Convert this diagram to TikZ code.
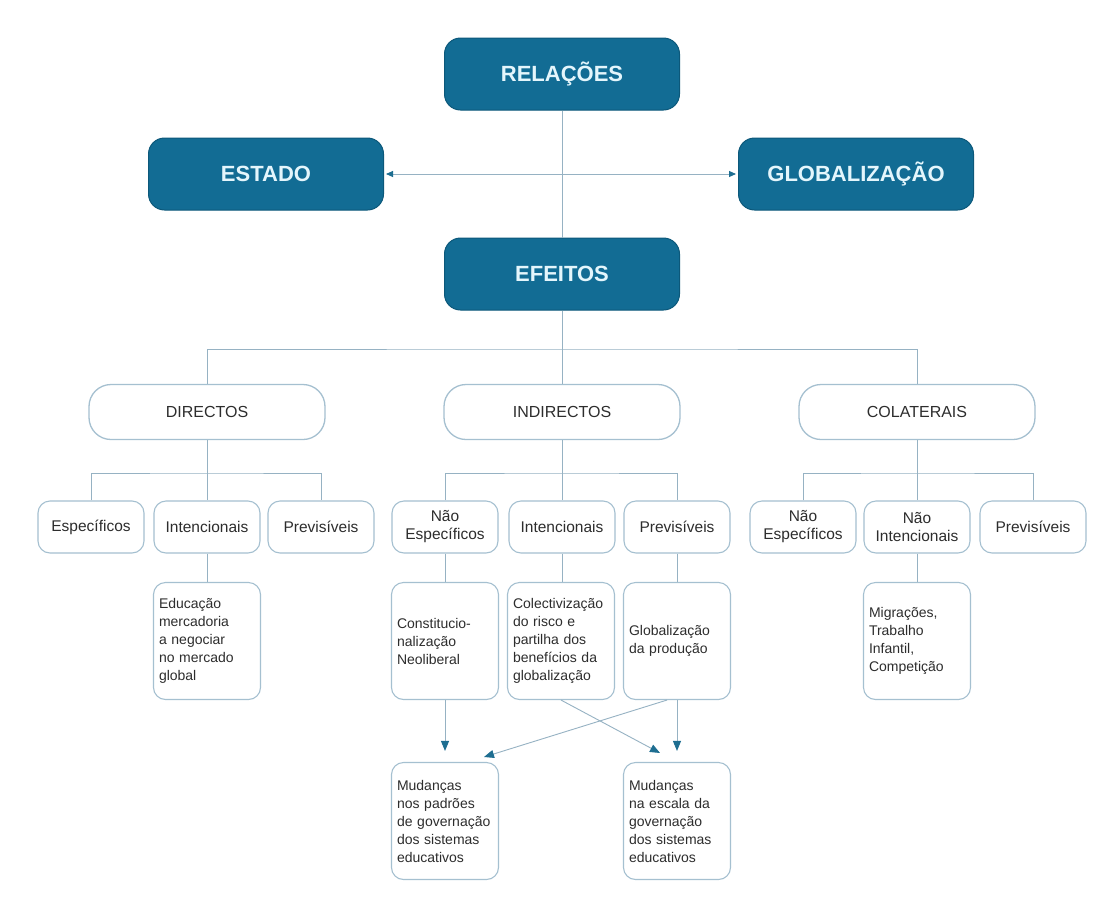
\documentclass[tikz,border=0pt]{standalone}
\usepackage{fontspec}
\setmainfont{Liberation Sans}
\usetikzlibrary{arrows.meta}
\definecolor{dk}{RGB}{18,108,148}
\definecolor{dkb}{RGB}{12,88,122}
\definecolor{lt}{RGB}{228,246,252}
\definecolor{ln}{RGB}{150,178,195}
\definecolor{bd}{RGB}{165,192,208}
\definecolor{ah}{RGB}{30,110,145}
\definecolor{tx}{RGB}{45,45,45}
\newcommand\leaffont{\fontsize{14}{18}\selectfont\hyphenpenalty=10000 \hbadness=10000 \relax}
\begin{document}
\begin{tikzpicture}[x=1pt,y=-1pt,
 darkbox/.style={draw=dkb, line width=1pt, fill=dk, rounded corners=16pt, minimum width=235pt, minimum height=72pt, text=lt, font=\fontsize{22}{26}\selectfont\bfseries, inner sep=0pt},
 pill/.style={draw=bd, line width=1.3pt, fill=white, rounded corners=22pt, minimum width=236pt, minimum height=55pt, text=tx, font=\fontsize{16}{19}\selectfont, inner sep=0pt},
 small/.style={draw=bd, line width=1.1pt, fill=white, rounded corners=12pt, minimum width=106pt, minimum height=52pt, text=tx, font=\fontsize{15.5}{18}\selectfont, align=center, inner sep=0pt},
 leaf/.style={draw=bd, line width=1.1pt, fill=white, rounded corners=12pt, text width=96pt, minimum height=117pt, text=tx, font=\leaffont, align=left, inner xsep=5.5pt, inner ysep=0pt},
 conn/.style={draw=ln, line width=0.9pt},
 arr/.style={draw=ln, line width=0.9pt, -{Triangle[length=10pt,width=8pt,color=ah]}},
]
\useasboundingbox[fill=white] (0,0) rectangle (1103,900);

% top level
\node[darkbox] (rel) at (562,74) {RELAÇÕES};
\node[darkbox] (est) at (266,174) {ESTADO};
\node[darkbox] (glo) at (856,174) {GLOBALIZAÇÃO};
\node[darkbox] (efe) at (562,274) {EFEITOS};

% level 2
\node[pill] (dir) at (207,412) {DIRECTOS};
\node[pill] (ind) at (562,412) {INDIRECTOS};
\node[pill] (col) at (917,412) {COLATERAIS};

% level 3
\node[small] (d1) at (91,527) {Específicos};
\node[small] (d2) at (207,527) {Intencionais};
\node[small] (d3) at (321,527) {Previsíveis};
\node[small] (i1) at (445,527) {Não\\Específicos};
\node[small] (i2) at (562,527) {Intencionais};
\node[small] (i3) at (677,527) {Previsíveis};
\node[small] (c1) at (803,527) {Não\\Específicos};
\node[small] (c2) at (917,527) {Não\\Intencionais};
\node[small] (c3) at (1033,527) {Previsíveis};

% level 4
\node[leaf] (e1) at (207,641) {Educação\\mercadoria\\a negociar\\no mercado\\global};
\node[leaf] (n1) at (445,641) {Constitucio-\\nalização\\Neoliberal};
\node[leaf] (n2) at (561,641) {Colectivização\\do risco e\\partilha dos\\benefícios da\\globalização};
\node[leaf] (n3) at (677,641) {Globalização\\da produção};
\node[leaf] (m1) at (917,641) {Migrações,\\Trabalho\\Infantil,\\Competição};

% level 5
\node[leaf] (b1) at (445,821) {Mudanças\\nos padrões\\de governação\\dos sistemas\\educativos};
\node[leaf] (b2) at (677,821) {Mudanças\\na escala da\\governação\\dos sistemas\\educativos};

% junctions
\coordinate (j0) at (562,349);
\coordinate (jd) at (207,473);
\coordinate (ji) at (562,473);
\coordinate (jc) at (917,473);
\coordinate (t1) at (484,757);
\coordinate (t2) at (660,753);

% connectors
\draw[conn, {Triangle[length=7pt,width=6pt,color=ah]}-{Triangle[length=7pt,width=6pt,color=ah]}, shorten <=2pt, shorten >=2pt] (est.east) -- (glo.west);
\draw[conn] (rel.south) -- (efe.north);
\draw[conn] (efe.south) -- (j0);
\draw[conn] (dir.north) |- (j0) -| (col.north);
\draw[conn] (j0) -- (ind.north);

\draw[conn] (dir.south) -- (jd);
\draw[conn] (d1.north) |- (jd) -| (d3.north);
\draw[conn] (jd) -- (d2.north);
\draw[conn] (ind.south) -- (ji);
\draw[conn] (i1.north) |- (ji) -| (i3.north);
\draw[conn] (ji) -- (i2.north);
\draw[conn] (col.south) -- (jc);
\draw[conn] (c1.north) |- (jc) -| (c3.north);
\draw[conn] (jc) -- (c2.north);

\draw[conn] (d2.south) -- (e1.north);
\draw[conn] (i1.south) -- (n1.north);
\draw[conn] (i2.south) -- (i2.south |- n2.north);
\draw[conn] (i3.south) -- (n3.north);
\draw[conn] (c2.south) -- (m1.north);

\draw[arr, shorten >=11pt] (n1.south) -- (b1.north);
\draw[arr, shorten >=11pt] (n3.south) -- (b2.north);
\draw[arr] (n2.south) -- (t2);
\draw[arr] ([xshift=-10pt]n3.south) -- (t1);
\end{tikzpicture}
\end{document}
